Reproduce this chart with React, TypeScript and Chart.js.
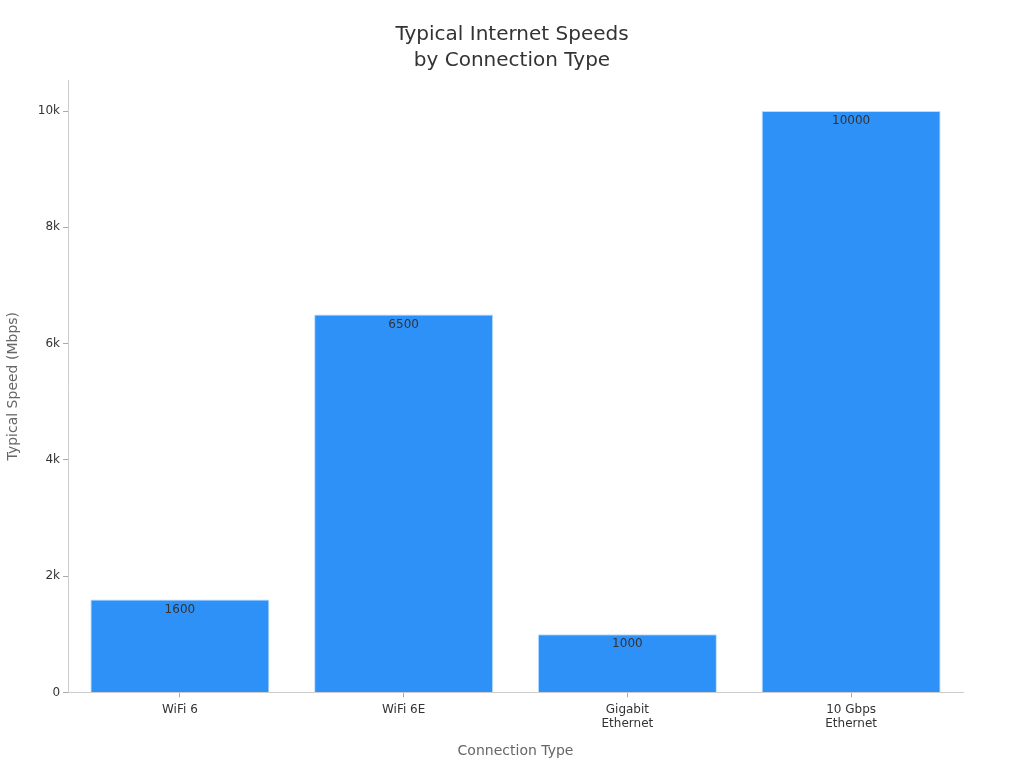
import React, { useEffect, useRef } from "react";
import { Chart, registerables } from "chart.js";

Chart.register(...registerables);

const categories: (string | string[])[] = ["WiFi 6", "WiFi 6E", ["Gigabit", "Ethernet"], ["10 Gbps", "Ethernet"]];
const speeds: number[] = [1600, 6500, 1000, 10000];
const yMax = 10534;

const FONT = "'DejaVu Sans', sans-serif";

const valueLabels = {
  id: "valueLabels",
  afterDatasetsDraw(chart: any) {
    const ctx = chart.ctx;
    const meta = chart.getDatasetMeta(0);
    ctx.save();
    ctx.font = `12px ${FONT}`;
    ctx.fillStyle = "#333333";
    ctx.textAlign = "center";
    ctx.textBaseline = "top";
    meta.data.forEach((bar: any, i: number) => {
      ctx.fillText(String(speeds[i]), bar.x, bar.y + 4);
    });
    ctx.restore();
  },
};

export default function App() {
  const ref = useRef<HTMLCanvasElement | null>(null);
  useEffect(() => {
    if (!ref.current) return;
    const chart = new Chart(ref.current, {
      type: "bar",
      data: {
        labels: categories,
        datasets: [
          {
            data: speeds,
            backgroundColor: "#2E91F8",
            borderColor: "#B9DCFF",
            borderWidth: 1,
            barPercentage: 0.8,
            categoryPercentage: 1,
          },
        ],
      },
      plugins: [valueLabels],
      options: {
        animation: false,
        responsive: false,
        layout: { padding: { left: 5, right: 5, top: 8, bottom: 8 } },
        plugins: {
          legend: { display: false },
          tooltip: { enabled: false },
          title: {
            display: true,
            text: ["Typical Internet Speeds", "by Connection Type"],
            color: "#333333",
            font: { family: FONT, size: 20, weight: "normal", lineHeight: 1.3 },
            padding: { top: 14, bottom: 6 },
          },
        },
        scales: {
          x: {
            grid: { display: true, offset: false, drawOnChartArea: false, drawTicks: true, tickLength: 5, color: "#aaaaaa" },
            border: { display: true, color: "#cccccc" },
            ticks: { color: "#333333", font: { family: FONT, size: 12 }, padding: 5 },
            title: {
              display: true,
              text: "Connection Type",
              color: "#666666",
              font: { family: FONT, size: 14 },
              padding: { top: 7, bottom: 0 },
            },
          },
          y: {
            min: 0,
            max: yMax,
            grid: { display: true, drawOnChartArea: false, drawTicks: true, tickLength: 5, color: "#aaaaaa" },
            border: { display: true, color: "#cccccc" },
            ticks: {
              maxTicksLimit: 7,
              includeBounds: false,
              color: "#333333",
              font: { family: FONT, size: 12 },
              padding: 3,
              callback: (v: any) => (Number(v) === 0 ? "0" : `${Number(v) / 1000}k`),
            },
            title: {
              display: true,
              text: "Typical Speed (Mbps)",
              color: "#666666",
              font: { family: FONT, size: 14 },
              padding: { top: 0, bottom: 13 },
            },
          },
          spacer: {
            type: "linear",
            position: "right",
            display: true,
            grid: { display: false },
            border: { display: false },
            ticks: { display: false },
            afterFit: (axis: any) => {
              axis.width = 56;
            },
          },
        },
      },
    });
    return () => chart.destroy();
  }, []);
  return (
    <div style={{ position: "fixed", left: 0, top: 0, width: 1024, height: 768, background: "#fff" }}>
      <canvas ref={ref} width={1024} height={768} />
    </div>
  );
}
